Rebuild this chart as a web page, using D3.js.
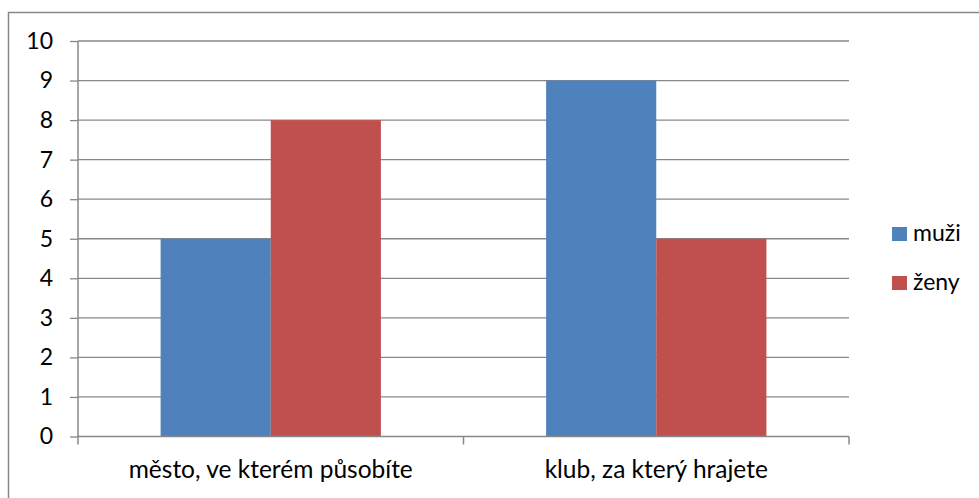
<!DOCTYPE html>
<html><head><meta charset="utf-8">
<script src="https://cdn.jsdelivr.net/npm/d3@7"></script>
<style>body{margin:0;background:#fff}svg{display:block}</style>
</head><body>
<svg id="c" width="979" height="498"></svg>
<script>
const categories = ["město, ve kterém působíte", "klub, za který hrajete"];
const seriesNames = ["muži", "ženy"];
const muzi = [5, 9];
const zeny = [8, 5];
const yTicks = [0,1,2,3,4,5,6,7,8,9,10];
const colors = ["#4F81BD", "#C0504D"];

(function(){
const values = [muzi, zeny];
const svg = d3.select("#c");
const font = "Lato, 'Open Sans', sans-serif";
const fs = 23, fsCat = 24.5;

// outer border
svg.append("path").attr("d","M8.5,498 V12.5 H979").attr("fill","none").attr("stroke","#888").attr("stroke-width",1.5);

const pLeft = 78, pRight = 849, pTop = 41, pBottom = 436.5;
const x = d3.scaleBand().domain(categories).range([pLeft, pRight]).padding(0);
const x1 = d3.scaleBand().domain(seriesNames).range([0, x.bandwidth()]).paddingInner(0).paddingOuter(0.75);
const y = d3.scaleLinear().domain([0, 10]).range([pBottom, pTop]);

// gridlines
svg.append("g").selectAll("line").data(yTicks.filter(d=>d>0)).join("line")
  .attr("x1", pLeft).attr("x2", pRight).attr("y1", d=>y(d)).attr("y2", d=>y(d))
  .attr("stroke", "#888").attr("stroke-width", 1.3);

// bars
const g = svg.append("g");
categories.forEach((c, ci) => {
  seriesNames.forEach((s, si) => {
    g.append("rect")
      .attr("x", x(c) + x1(s)).attr("width", x1.bandwidth())
      .attr("y", y(values[si][ci])).attr("height", y(0) - y(values[si][ci]))
      .attr("fill", colors[si]);
  });
});

// y axis
const yAxis = d3.axisLeft(y).tickValues(yTicks).tickSize(8).tickPadding(17).tickFormat(d3.format("d"));
const ya = svg.append("g").attr("transform", `translate(${pLeft},0)`).call(yAxis);
ya.select(".domain").attr("stroke", "#888").attr("stroke-width", 1.5).attr("d", `M0,${pTop}V${pBottom}`);
ya.selectAll(".tick line").attr("stroke", "#888").attr("stroke-width", 1.3);
ya.selectAll("text").attr("font-family", font).attr("font-size", fs).attr("fill", "#000");

// x axis
const xa = svg.append("g").attr("transform", `translate(0,${pBottom})`);
xa.append("line").attr("x1", pLeft).attr("x2", pRight).attr("stroke", "#888").attr("stroke-width", 1.5);
const bounds = [pLeft, ...categories.map(c => x(c) + x.bandwidth())];
xa.selectAll("line.tk").data(bounds).join("line").attr("class","tk")
  .attr("x1", d=>d).attr("x2", d=>d).attr("y1", 0).attr("y2", 8)
  .attr("stroke", "#888").attr("stroke-width", 1.5);
xa.selectAll("text").data(categories).join("text")
  .attr("x", d => x(d) + x.bandwidth()/2).attr("y", 41)
  .attr("text-anchor", "middle").attr("font-family", font).attr("font-size", fsCat).attr("fill", "#000")
  .text(d => d);

// legend
const lg = svg.append("g");
seriesNames.forEach((s, i) => {
  const cy = 234 + i * 49;
  lg.append("rect").attr("x", 892).attr("y", cy - 7).attr("width", 15).attr("height", 14).attr("fill", colors[i]);
  lg.append("text").attr("x", 913).attr("y", cy + 7).attr("font-family", font).attr("font-size", fs).attr("fill", "#000").text(s);
});
})();
</script>
</body></html>
